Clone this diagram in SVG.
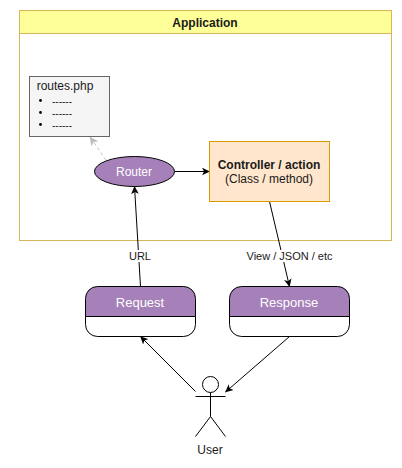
<svg xmlns="http://www.w3.org/2000/svg" width="402" height="468" viewBox="0 0 402 468">
<style>
text{font-family:"Liberation Sans",Arial,Helvetica,sans-serif;font-size:12px;fill:#1a1a1a;text-anchor:middle}
.b{font-weight:bold}
.w{fill:#ffffff}
.big{font-size:13px}
.purple{fill:#a680b8;stroke:#000000;stroke-width:1}
.edge{fill:none;stroke:#000000;stroke-width:1}
.actor{fill:none;stroke:#000000;stroke-width:1}
.lbl{font-size:11px}
.d{font-size:10px;text-anchor:start}
</style>
<defs>
<marker id="arrow" markerUnits="userSpaceOnUse" markerWidth="8" markerHeight="8" viewBox="0 0 8 8" refX="7.5" refY="4" orient="auto">
<path d="M0 0.2L8 4L0 7.8L2 4Z" fill="#000000"/>
</marker>
<marker id="arrowg" markerUnits="userSpaceOnUse" markerWidth="9" markerHeight="9" viewBox="0 0 8 8" refX="7.5" refY="4" orient="auto">
<path d="M0 0.2L8 4L0 7.8L2 4Z" fill="#bdbdbd"/>
</marker>
</defs>
<g id="application">
<rect x="19.5" y="10.5" width="372" height="230" fill="#ffffff" stroke="#d6b656"/>
<rect x="19.5" y="10.5" width="372" height="23" fill="#ffff99" stroke="#d6b656"/>
<text class="b" x="205" y="27">Application</text>
</g>
<g id="connectors">
<path class="edge" d="M106 160L90 137" stroke-dasharray="3 3" style="stroke:#bdbdbd" marker-end="url(#arrowg)"/>
<path class="edge" d="M174.5 171.5H209.5" marker-end="url(#arrow)"/>
<path class="edge" d="M140.5 286.5L134.5 186.5" marker-end="url(#arrow)"/>
<path class="edge" d="M269.5 201.5L289.5 286.5" marker-end="url(#arrow)"/>
<path class="edge" d="M195.5 391.5L140.5 336.5" marker-end="url(#arrow)"/>
<path class="edge" d="M289.5 336.5L225.5 392" marker-end="url(#arrow)"/>
</g>
<g id="routes">
<rect x="29.5" y="76.5" width="80" height="60" fill="#f5f5f5" stroke="#666666"/>
<text x="65" y="90">routes.php</text>
<circle cx="40.5" cy="100.5" r="1.4" fill="#000"/>
<circle cx="40.5" cy="112.5" r="1.4" fill="#000"/>
<circle cx="40.5" cy="124.5" r="1.4" fill="#000"/>
<text class="d" x="52" y="104.5">------</text>
<text class="d" x="52" y="116.5">------</text>
<text class="d" x="52" y="128.5">------</text>
</g>
<g id="router">
<ellipse class="purple" cx="134.5" cy="171.5" rx="40" ry="15"/>
<text class="w" x="134" y="176">Router</text>
</g>
<g id="controller">
<rect x="209.5" y="141.5" width="120" height="60" fill="#ffe6cc" stroke="#d79b00"/>
<text class="b" x="269" y="169">Controller / action</text>
<text x="269" y="183">(Class / method)</text>
</g>
<g id="request">
<path d="M85.5 316.5V298.5a12 12 0 0 1 12-12H183.5a12 12 0 0 1 12 12V316.5Z" class="purple"/>
<path d="M85.5 316.5H195.5V324.5a12 12 0 0 1-12 12H97.5a12 12 0 0 1-12-12Z" fill="#ffffff" stroke="#000"/>
<text class="w big" x="140" y="307">Request</text>
</g>
<g id="response">
<path d="M229.5 316.5V298.5a12 12 0 0 1 12-12H337.5a12 12 0 0 1 12 12V316.5Z" class="purple"/>
<path d="M229.5 316.5H349.5V324.5a12 12 0 0 1-12 12H241.5a12 12 0 0 1-12-12Z" fill="#ffffff" stroke="#000"/>
<text class="w big" x="289" y="307">Response</text>
</g>
<g id="user">
<circle class="actor" cx="210.5" cy="384.5" r="8"/>
<path class="actor" d="M210.5 392.5V416.5M195.5 396.5H225.5M195.5 436.5L210.5 416.5L225.5 436.5"/>
<text x="210" y="454">User</text>
</g>
<g id="labels">
<rect x="129" y="250" width="24" height="12" fill="#ffffff"/>
<text class="lbl" x="140" y="260">URL</text>
<rect x="246" y="250" width="87" height="12" fill="#ffffff"/>
<text class="lbl" x="289.5" y="260">View / JSON / etc</text>
</g>
</svg>
